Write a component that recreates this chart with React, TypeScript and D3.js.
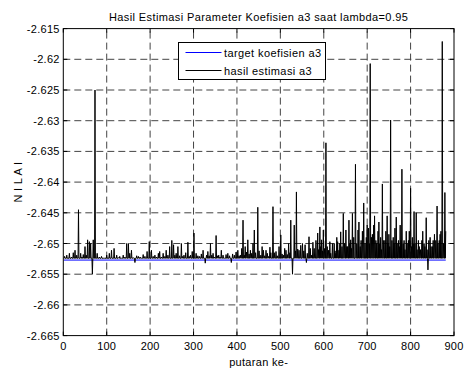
import React from "react";
import * as d3 from "d3";

const W = 464;
const H = 372;
const titleText = "Hasil Estimasi Parameter Koefisien a3 saat lambda=0.95";
const xLabelText = "putaran ke-";
const yLabelText = "N I L A I";
const legendLabels = ["target koefisien a3", "hasil estimasi a3"];

const xTicks = [0, 100, 200, 300, 400, 500, 600, 700, 800, 900];
const yTicks = [-2.665, -2.66, -2.655, -2.65, -2.645, -2.64, -2.635, -2.63, -2.625, -2.62, -2.615];
const yTickLabels = ["-2.665", "-2.66", "-2.655", "-2.65", "-2.645", "-2.64", "-2.635", "-2.63", "-2.625", "-2.62", "-2.615"];

const targetValue = -2.6527;
const firstIter = 1;
const lastIter = 881;
const baseValue = -2.6524;

// [iteration, estimate] (spikes away from the baseline)
const spikes: [number, number][] = [
  [3,-2.6521],[8,-2.6519],[14,-2.6516],[19,-2.6522],[23,-2.6515],[27,-2.6511],[31,-2.6519],[35,-2.6445],[40,-2.6516],[43,-2.6522],[46,-2.6518],[50,-2.6505],[53,-2.6519],[56,-2.6494],[60,-2.6497],[63,-2.65],[67,-2.655],[69,-2.6494],[73,-2.625],[78,-2.6516],[83,-2.6522],[88,-2.6521],[94,-2.6524],[100,-2.6519],[106,-2.6516],[111,-2.6511],[117,-2.6508],[123,-2.6519],[127,-2.6523],[130,-2.6521],[134,-2.6524],[138,-2.6519],[142,-2.6522],[146,-2.65],[150,-2.65],[153,-2.6516],[157,-2.6511],[161,-2.6523],[165,-2.6531],[169,-2.652],[173,-2.6521],[177,-2.6522],[180,-2.6524],[184,-2.6518],[188,-2.6521],[193,-2.6513],[198,-2.6497],[203,-2.6511],[207,-2.6521],[211,-2.6519],[215,-2.6522],[219,-2.6516],
  [222,-2.6513],[226,-2.6522],[230,-2.6516],[234,-2.6521],[237,-2.6511],[241,-2.6519],[245,-2.6505],[250,-2.6495],[254,-2.6502],[257,-2.6519],[260,-2.6516],[264,-2.6505],[268,-2.652],[272,-2.65],[275,-2.6521],[278,-2.6519],[282,-2.6515],[287,-2.6498],[290,-2.6521],[293,-2.6519],[297,-2.6513],[301,-2.6483],[306,-2.6516],[310,-2.652],[314,-2.6521],[318,-2.6517],[322,-2.6511],[327,-2.6532],[330,-2.6519],[333,-2.6513],[336,-2.652],[339,-2.65],[342,-2.6519],[345,-2.6516],[348,-2.6522],[352,-2.6487],[355,-2.652],[358,-2.6519],[361,-2.6522],[364,-2.6511],[368,-2.6519],[371,-2.6524],[375,-2.6518],[379,-2.6516],[383,-2.652],[387,-2.6531],[390,-2.6517],[394,-2.6519],[398,-2.6514],[402,-2.6511],[405,-2.652],[408,-2.6519],[411,-2.6508],[414,-2.6462],[417,-2.6519],[419,-2.6505],[422,-2.6514],[425,-2.6494],[428,-2.6517],[431,-2.6511],[434,-2.6516],[437,-2.65],[440,-2.6478],[443,-2.6515],
  [448,-2.6441],[451,-2.6512],[455,-2.6519],[458,-2.6505],[461,-2.6511],[464,-2.652],[467,-2.6511],[470,-2.6516],[473,-2.6521],[476,-2.6506],[478,-2.6515],[483,-2.644],[486,-2.6515],[490,-2.6513],[493,-2.652],[497,-2.6505],[501,-2.6486],[504,-2.6517],[507,-2.6519],[510,-2.6508],[513,-2.6511],[516,-2.6518],[519,-2.65],[522,-2.6515],[524,-2.6462],[528,-2.655],[532,-2.647],[535,-2.6512],[537,-2.6416],[540,-2.6509],[543,-2.6511],[547,-2.6503],[551,-2.65],[554,-2.6512],[557,-2.6502],[560,-2.6531],[562,-2.6516],[566,-2.6489],[569,-2.6508],[572,-2.6519],[575,-2.6498],[578,-2.6508],[582,-2.6495],[586,-2.6483],[588,-2.651],[591,-2.6473],[593,-2.6505],[595,-2.6494],[597,-2.6512],[599,-2.6478],[602,-2.6508],[605,-2.6336],[608,-2.6505],[611,-2.6511],[614,-2.6497],[616,-2.6516],[620,-2.65],[624,-2.65],[626,-2.6512],[628,-2.6516],[630,-2.649],[632,-2.6497],[635,-2.6511],[637,-2.65],[639,-2.6481],[642,-2.6505],[645,-2.6451],[648,-2.65],[651,-2.6478],[653,-2.6505],[655,-2.6505],[658,-2.6462],[660,-2.65],[662,-2.6494],[664,-2.6508],[666,-2.6451],[669,-2.649],[673,-2.6371],
  [676,-2.65],[679,-2.6478],[681,-2.6465],[684,-2.6505],[686,-2.6495],[689,-2.648],[692,-2.6434],[695,-2.65],[698,-2.649],[700,-2.647],[703,-2.6475],[705,-2.65],[707,-2.6207],[710,-2.649],[712,-2.6485],[715,-2.647],[717,-2.6455],[720,-2.6495],[722,-2.65],[725,-2.648],[727,-2.6465],[729,-2.65],[731,-2.649],[733,-2.651],[735,-2.6403],[738,-2.6495],[741,-2.6495],[743,-2.648],[746,-2.6455],[748,-2.65],[750,-2.6485],[752,-2.6505],[754,-2.6299],[757,-2.6495],[760,-2.649],[762,-2.65],[764,-2.6475],[767,-2.6457],[769,-2.65],[772,-2.6495],[774,-2.6505],[776,-2.647],[778,-2.6495],[780,-2.6379],[783,-2.65],[785,-2.6495],[787,-2.651],[790,-2.648],[792,-2.65],[795,-2.6495],[797,-2.648],[800,-2.641],[802,-2.6505],[804,-2.649],[806,-2.65],[808,-2.6448],[810,-2.65],[813,-2.645],[815,-2.651],[818,-2.6495],[820,-2.6505],[823,-2.651],[826,-2.6495],[828,-2.648],[831,-2.65],[833,-2.6505],[836,-2.6458],[838,-2.651],[840,-2.6543],[842,-2.6495],[845,-2.649],[847,-2.6505],[850,-2.6505],[852,-2.6495],[855,-2.6485],[858,-2.6495],[861,-2.6439],[863,-2.65],[866,-2.6495],[868,-2.6485],[870,-2.648],[873,-2.6171],[876,-2.65],[879,-2.6417],[881,-2.648],
];

const FONT = "'Liberation Sans', Arial, Helvetica, sans-serif";

export default function App() {
  const left = 63.3, right = 454, top = 28.6, bottom = 335.6;
  const x = d3.scaleLinear().domain([0, 900]).range([left, right]);
  const y = d3.scaleLinear().domain([-2.665, -2.615]).range([bottom, top]);

  // build the estimate path: baseline between spikes
  const pts: [number, number][] = [[firstIter, baseValue]];
  spikes.forEach((s, k) => {
    const prev = k === 0 ? firstIter : spikes[k - 1][0];
    if (s[0] - 1 > prev) pts.push([s[0] - 1, baseValue]);
    pts.push(s);
    const next = k === spikes.length - 1 ? lastIter + 1 : spikes[k + 1][0];
    if (s[0] + 1 < next) pts.push([s[0] + 1, baseValue]);
  });
  const line = d3.line<[number, number]>().x((d) => x(d[0])).y((d) => y(d[1]));
  const estPath = line(pts) || "";
  const targetPath = line([[firstIter, targetValue], [lastIter, targetValue]]) || "";

  const grid = "#444";
  const tickLen = 4;
  const lg = { x: 178.5, y: 42.5, w: 147, h: 37 };
  const fs = 11;
  const ls = 0.4;

  return (
    <svg width={W} height={H} style={{ position: "absolute", left: 0, top: 0, background: "#fff" }} fontFamily={FONT}>
      <rect x={0} y={0} width={W} height={H} fill="#fff" />
      {/* grid */}
      {xTicks.slice(1, -1).map((t) => (
        <line key={"gx" + t} x1={x(t)} x2={x(t)} y1={bottom} y2={top} stroke={grid} strokeWidth={1} strokeDasharray="7,4" />
      ))}
      {yTicks.slice(1, -1).map((t) => (
        <line key={"gy" + t} x1={left} x2={right} y1={y(t)} y2={y(t)} stroke={grid} strokeWidth={1} strokeDasharray="7,4" />
      ))}
      {/* data */}
      <path d={targetPath} fill="none" stroke="#0000ff" strokeWidth={1} />
      <path d={estPath} fill="none" stroke="#000" strokeWidth={1} />
      {/* ticks */}
      {xTicks.map((t) => (
        <g key={"tx" + t}>
          <line x1={x(t)} x2={x(t)} y1={bottom} y2={bottom - tickLen} stroke="#000" />
          <line x1={x(t)} x2={x(t)} y1={top} y2={top + tickLen} stroke="#000" />
          <text x={x(t)} y={bottom + 14.5} fontSize={fs} letterSpacing={0.2} textAnchor="middle" fill="#000">{t}</text>
        </g>
      ))}
      {yTicks.map((t, i) => (
        <g key={"ty" + t}>
          <line x1={left} x2={left + tickLen} y1={y(t)} y2={y(t)} stroke="#000" />
          <line x1={right} x2={right - tickLen} y1={y(t)} y2={y(t)} stroke="#000" />
          <text x={left - 3.5} y={y(t) + 4} fontSize={fs} letterSpacing={0.3} textAnchor="end" fill="#000">{yTickLabels[i]}</text>
        </g>
      ))}
      {/* box */}
      <rect x={left} y={top} width={right - left} height={bottom - top} fill="none" stroke="#000" strokeWidth={1} />
      {/* legend */}
      <rect x={lg.x} y={lg.y} width={lg.w} height={lg.h} fill="#fff" stroke="#000" strokeWidth={1} />
      <line x1={185.5} x2={221.5} y1={52.5} y2={52.5} stroke="#0000ff" />
      <line x1={185.5} x2={221.5} y1={70.5} y2={70.5} stroke="#000" />
      <text x={224} y={56.5} fontSize={fs} letterSpacing={ls} fill="#000">{legendLabels[0]}</text>
      <text x={224} y={74.5} fontSize={fs} letterSpacing={ls} fill="#000">{legendLabels[1]}</text>
      {/* titles */}
      <text x={(left + right) / 2} y={20.5} fontSize={fs} letterSpacing={ls} textAnchor="middle" fill="#000">{titleText}</text>
      <text x={(left + right) / 2} y={366} fontSize={fs} letterSpacing={0.3} textAnchor="middle" fill="#000">{xLabelText}</text>
      <text transform={`translate(22,${(top + bottom) / 2}) rotate(-90)`} fontSize={fs} letterSpacing={0.3} textAnchor="middle" fill="#000">{yLabelText}</text>
    </svg>
  );
}
